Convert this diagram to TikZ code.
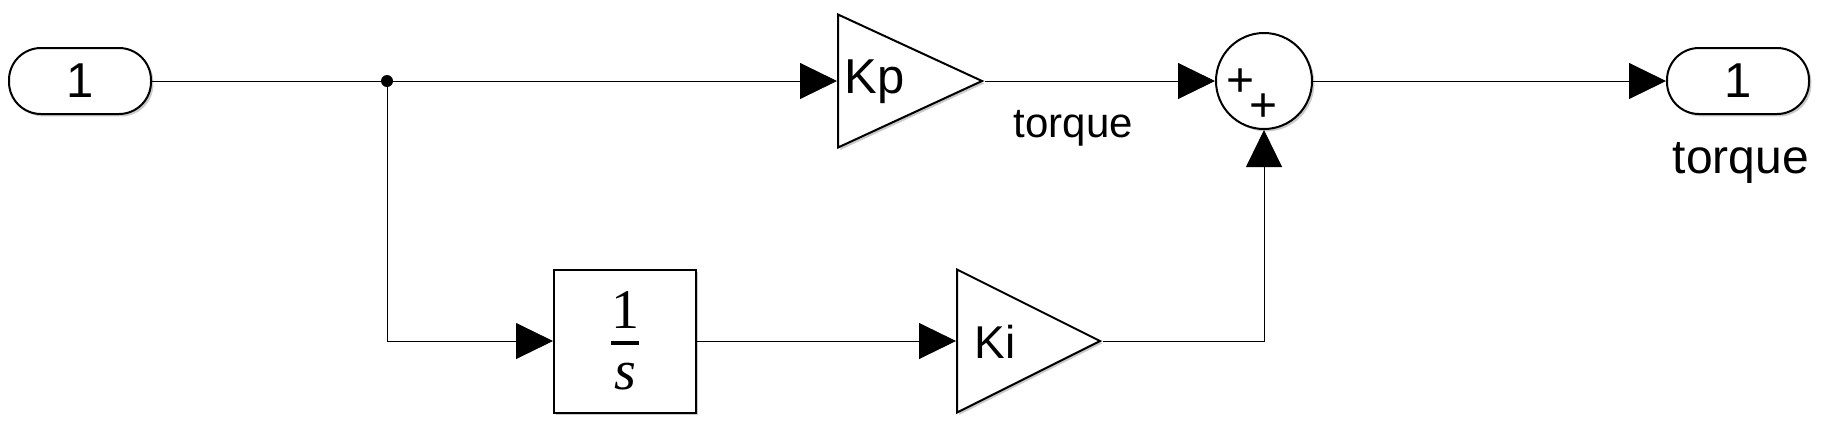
\documentclass[tikz,border=0pt]{standalone}
\usepackage{amsmath}
\usepackage{fontspec}
\setmainfont{Liberation Sans}
\newfontfamily\serifrm{Liberation Serif}
\usepackage{tikz}
\usetikzlibrary{positioning,arrows.meta,shapes.geometric,shadows}

\begin{document}
\begin{tikzpicture}[
    x=0.5pt, y=-0.5pt,
    shd/.style={drop shadow={shadow xshift=1.2pt, shadow yshift=-1.2pt, opacity=0.35, fill=black!60}},
    port/.style={draw, line width=1pt, fill=white, shd, rounded corners=16pt, minimum width=71pt, minimum height=33pt, inner sep=0pt, font=\fontsize{24.5}{24.5}\selectfont},
    gain/.style={draw, line width=1pt, fill=white, shd, isosceles triangle, isosceles triangle stretches, inner sep=0pt, anchor=west},
    blk/.style={draw, line width=1pt, fill=white, shd, minimum width=71pt, minimum height=71.5pt, inner sep=0pt},
    sumnode/.style={draw, line width=1pt, fill=white, shd, circle, minimum size=48pt, inner sep=0pt},
    dot/.style={circle, fill=black, minimum size=6pt, inner sep=0pt},
    txt/.style={inner sep=0pt, font=\fontsize{#1}{#1}\selectfont},
    arr/.style={-{Triangle[length=18.5pt,width=18pt]}, line width=0.5pt},
    wire/.style={line width=0.5pt}
  ]
  \useasboundingbox (0,0) rectangle (1821,430);

  \node[port] (in1) at (80,81) {1};
  \node[dot] (fork) at (387,81) {};
  \node[gain, minimum width=66.5pt, minimum height=72pt] (kp) at (837,81) {};
  \node[txt=24.5, anchor=base west] (kptxt) at (844,93) {Kp};
  \node[sumnode] (sum) at (1264,81) {};
  \node[txt=24] (plusa) at (1241,83) {+};
  \node[txt=24] (plusb) at (1264,108) {+};
  \node[port] (out1) at (1738,81) {1};
  \node[txt=24, anchor=base] (outtxt) at (1741,173) {torque};
  \node[blk] (integ) at (625,341) {\fontsize{28}{28}\selectfont$\genfrac{}{}{2pt}{0}{\raisebox{-3.5pt}{\serifrm 1}}{\text{\serifrm\itshape s}}$};
  \node[gain, minimum width=71.5pt, minimum height=71.5pt] (ki) at (956,341) {};
  \node[txt=23, anchor=base west] (kitxt) at (974,358) {Ki};

  \draw[wire] (in1) -- (fork);
  \draw[arr] (fork) -- (kp.west);
  \draw[arr] (kp.east) -- (sum) node[txt=21, pos=0.385, anchor=base, yshift=-28pt] {torque};
  \draw[arr] (sum) -- (out1);
  \draw[arr] (fork) |- (integ);
  \draw[arr] (integ) -- (ki.west);
  \draw[arr] (ki.east) -| (sum);
\end{tikzpicture}
\end{document}
